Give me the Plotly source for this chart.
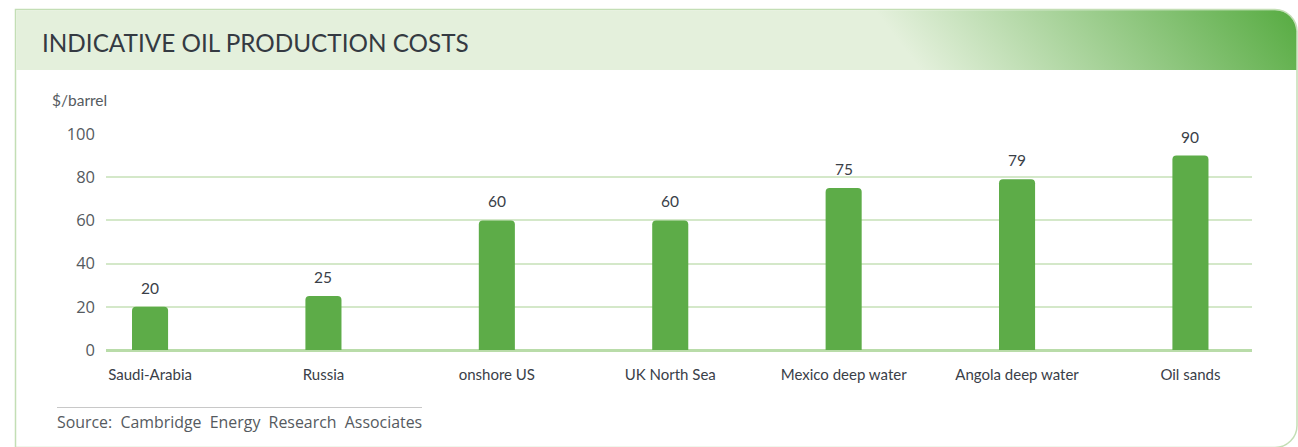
import base64
import plotly.graph_objects as go

categories = ["Saudi-Arabia", "Russia", "onshore US", "UK North Sea",
              "Mexico deep water", "Angola deep water", "Oil sands"]
costs = [20, 25, 60, 60, 75, 79, 90]
y_ticks = [0, 20, 40, 60, 80, 100]

W, H = 1298, 447
L, R, T, B = 106, 46, 134, 97
PW, PH = W - L - R, H - T - B


def px(x):
    return (x - L) / PW


def py(y):
    return (H - B - y) / PH


svg = f'''<svg xmlns="http://www.w3.org/2000/svg" width="{W}" height="{H}" viewBox="0 0 {W} {H}">
<defs><linearGradient id="g" gradientUnits="userSpaceOnUse" x1="905" y1="50" x2="1165" y2="-149">
<stop offset="0" stop-color="#e4f0dc"/><stop offset="1" stop-color="#5aad45"/></linearGradient></defs>
<rect x="0" y="0" width="{W}" height="{H}" fill="#ffffff"/>
<path d="M15.5,460 L15.5,9.5 L1275,9.5 A22,22 0 0 1 1297,31.5 L1297,425.5 A22,22 0 0 1 1275,447.5 L15.5,447.5" fill="#ffffff" stroke="#c3deb5" stroke-width="1.5"/>
<path d="M16.2,10.2 L1275,10.2 A21.5,21.5 0 0 1 1296.3,31.5 L1296.3,70 L16.2,70 Z" fill="url(#g)"/>
<line x1="57" y1="407.5" x2="422" y2="407.5" stroke="#c8c8c8" stroke-width="1"/>
</svg>'''
src = "data:image/svg+xml;base64," + base64.b64encode(svg.encode()).decode()

font_main = "Lato, 'Open Sans', sans-serif"
font_light = "'Open Sans', Lato, sans-serif"

fig = go.Figure()
fig.add_trace(go.Bar(
    x=categories, y=costs, width=0.208,
    marker=dict(color="#5dac48", line=dict(width=0)),
    hoverinfo="x+y",
))

for c, v in zip(categories, costs):
    fig.add_annotation(x=c, y=v, text=str(v), showarrow=False,
                       yanchor="bottom", yshift=8,
                       font=dict(family=font_main, size=15.5, color="#3a4048"))

fig.add_annotation(xref="paper", yref="paper", x=px(40), y=py(42),
                   xanchor="left", yanchor="middle", showarrow=False,
                   text="INDICATIVE OIL PRODUCTION COSTS",
                   font=dict(family=font_main, size=24.3, color="#343a42"))
fig.add_annotation(xref="paper", yref="paper", x=px(50), y=py(100),
                   xanchor="left", yanchor="middle", showarrow=False,
                   text="$/barrel",
                   font=dict(family=font_main, size=15.5, color="#555a60"))
fig.add_annotation(xref="paper", yref="paper", x=px(55), y=py(422),
                   xanchor="left", yanchor="middle", showarrow=False,
                   text="Source:\u00a0 Cambridge\u00a0 Energy\u00a0 Research\u00a0 Associates",
                   font=dict(family=font_light, size=15.9, color="#555a60"))

fig.add_layout_image(dict(source=src, xref="paper", yref="paper",
                          x=px(0), y=py(0), sizex=W / PW, sizey=H / PH,
                          xanchor="left", yanchor="top", sizing="stretch",
                          layer="below"))

fig.update_layout(
    width=W, height=H,
    margin=dict(l=L, r=R, t=T, b=B, pad=0),
    paper_bgcolor="#ffffff", plot_bgcolor="rgba(0,0,0,0)",
    showlegend=False, barcornerradius=4,
    xaxis=dict(range=[-0.254, 6.355], showgrid=False, zeroline=False,
               showline=False, ticks="", ticklabelstandoff=14,
               tickfont=dict(family=font_main, size=15, color="#3a4048"),
               fixedrange=True),
    yaxis=dict(range=[0, 100], tickvals=y_ticks, showgrid=True,
               gridcolor="#d4e8c9", gridwidth=1.5,
               zeroline=True, zerolinecolor="#b9dca9", zerolinewidth=3,
               showline=False, ticks="", ticklabelstandoff=10,
               tickfont=dict(family=font_light, size=16.5, color="#555a60"),
               fixedrange=True),
)

fig.write_html("out.html")
